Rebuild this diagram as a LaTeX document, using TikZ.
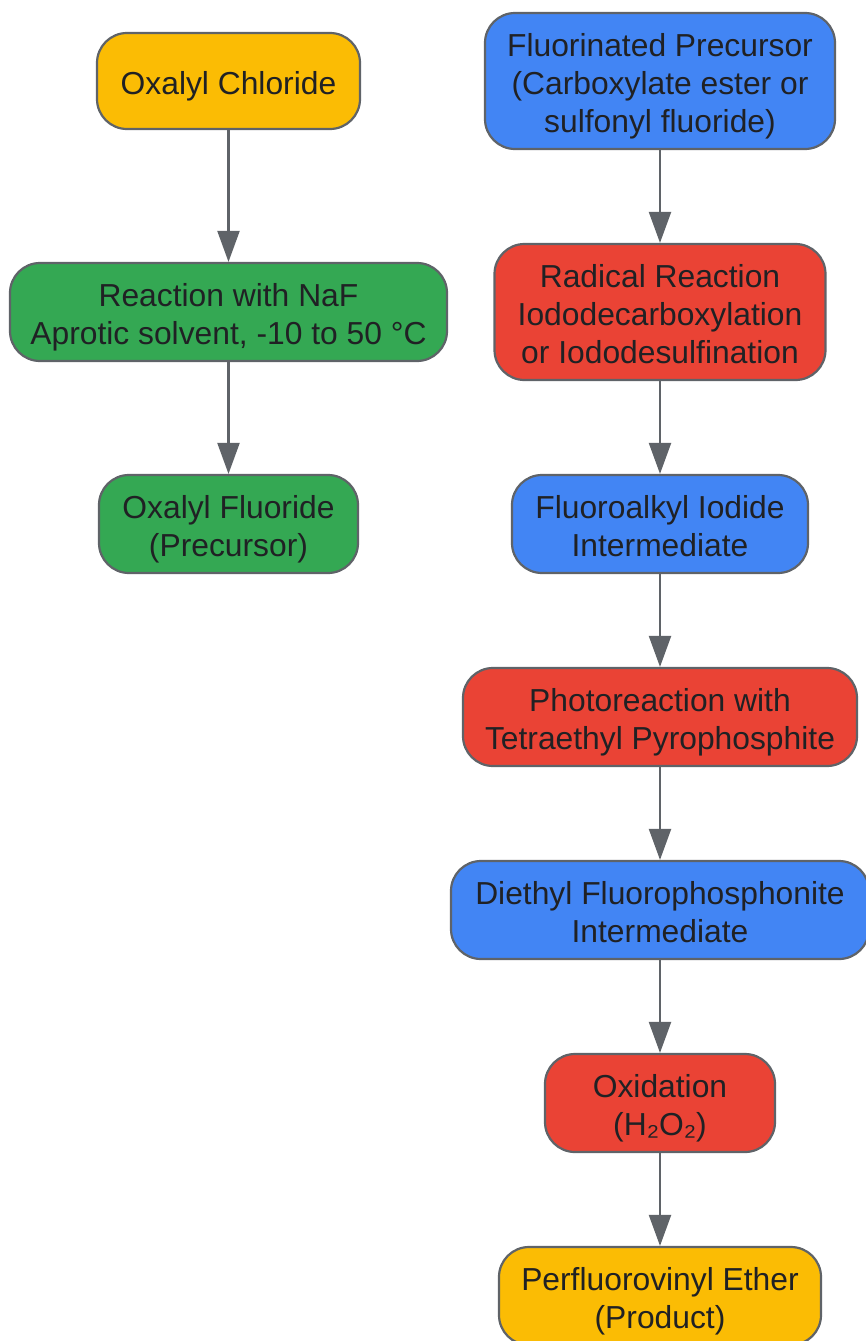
\documentclass[tikz,border=0pt]{standalone}
\usepackage{fontspec}
\setmainfont{Liberation Sans}
\usetikzlibrary{arrows.meta}
\definecolor{cyellow}{HTML}{FBBC04}
\definecolor{cgreen}{HTML}{34A853}
\definecolor{cblue}{HTML}{4285F4}
\definecolor{cred}{HTML}{EA4335}
\definecolor{cedge}{HTML}{5F6368}
\definecolor{ctext}{HTML}{202124}
\newcommand\topstr{\rule{0pt}{34pt}}
\newcommand\botstr{\rule[-8pt]{0pt}{8pt}}
\begin{document}
\begin{tikzpicture}[x=1pt,y=-1pt,
  box/.style={draw=cedge, line width=2.2pt, rounded corners=30pt, inner sep=0pt,
    align=center, text=ctext, font=\fontsize{31.8}{38}\selectfont},
  flow/.style={draw=cedge, line width=2.2pt, -{Triangle[length=31pt,width=22pt]}}
]
\useasboundingbox (0,0) rectangle (866,1341);
\node[box, fill=cyellow, minimum width=263pt, minimum height=96pt] (oc) at (228.5,81) {\topstr Oxalyl Chloride\botstr};
\node[box, fill=cgreen, minimum width=437pt, minimum height=98pt] (naf) at (228.5,312) {\topstr Reaction with NaF\\Aprotic solvent, -10 to 50 °C\botstr};
\node[box, fill=cgreen, minimum width=259pt, minimum height=98pt] (of) at (228.5,524) {\topstr Oxalyl Fluoride\\(Precursor)\botstr};
\node[box, fill=cblue, minimum width=350pt, minimum height=136pt] (fp) at (660,81) {\topstr Fluorinated Precursor\\(Carboxylate ester or\\sulfonyl fluoride)\botstr};
\node[box, fill=cred, minimum width=331pt, minimum height=136pt] (rr) at (660,312) {\topstr Radical Reaction\\Iododecarboxylation\\or Iododesulfination\botstr};
\node[box, fill=cblue, minimum width=296pt, minimum height=98pt] (fi) at (660,524) {\topstr Fluoroalkyl Iodide\\Intermediate\botstr};
\node[box, fill=cred, minimum width=394pt, minimum height=98pt] (pr) at (660,717) {\topstr Photoreaction with\\Tetraethyl Pyrophosphite\botstr};
\node[box, fill=cblue, minimum width=418pt, minimum height=98pt] (df) at (660,910) {\topstr Diethyl Fluorophosphonite\\Intermediate\botstr};
\node[box, fill=cred, minimum width=230pt, minimum height=98pt] (ox) at (660,1103) {\topstr Oxidation\\(H₂O₂)\botstr};
\node[box, fill=cyellow, minimum width=322pt, minimum height=98pt] (pe) at (660,1296) {\topstr Perfluorovinyl Ether\\(Product)\botstr};
\draw[flow] (oc) -- (naf);
\draw[flow] (naf) -- (of);
\draw[flow] (fp) -- (rr);
\draw[flow] (rr) -- (fi);
\draw[flow] (fi) -- (pr);
\draw[flow] (pr) -- (df);
\draw[flow] (df) -- (ox);
\draw[flow] (ox) -- (pe);
\end{tikzpicture}
\end{document}
